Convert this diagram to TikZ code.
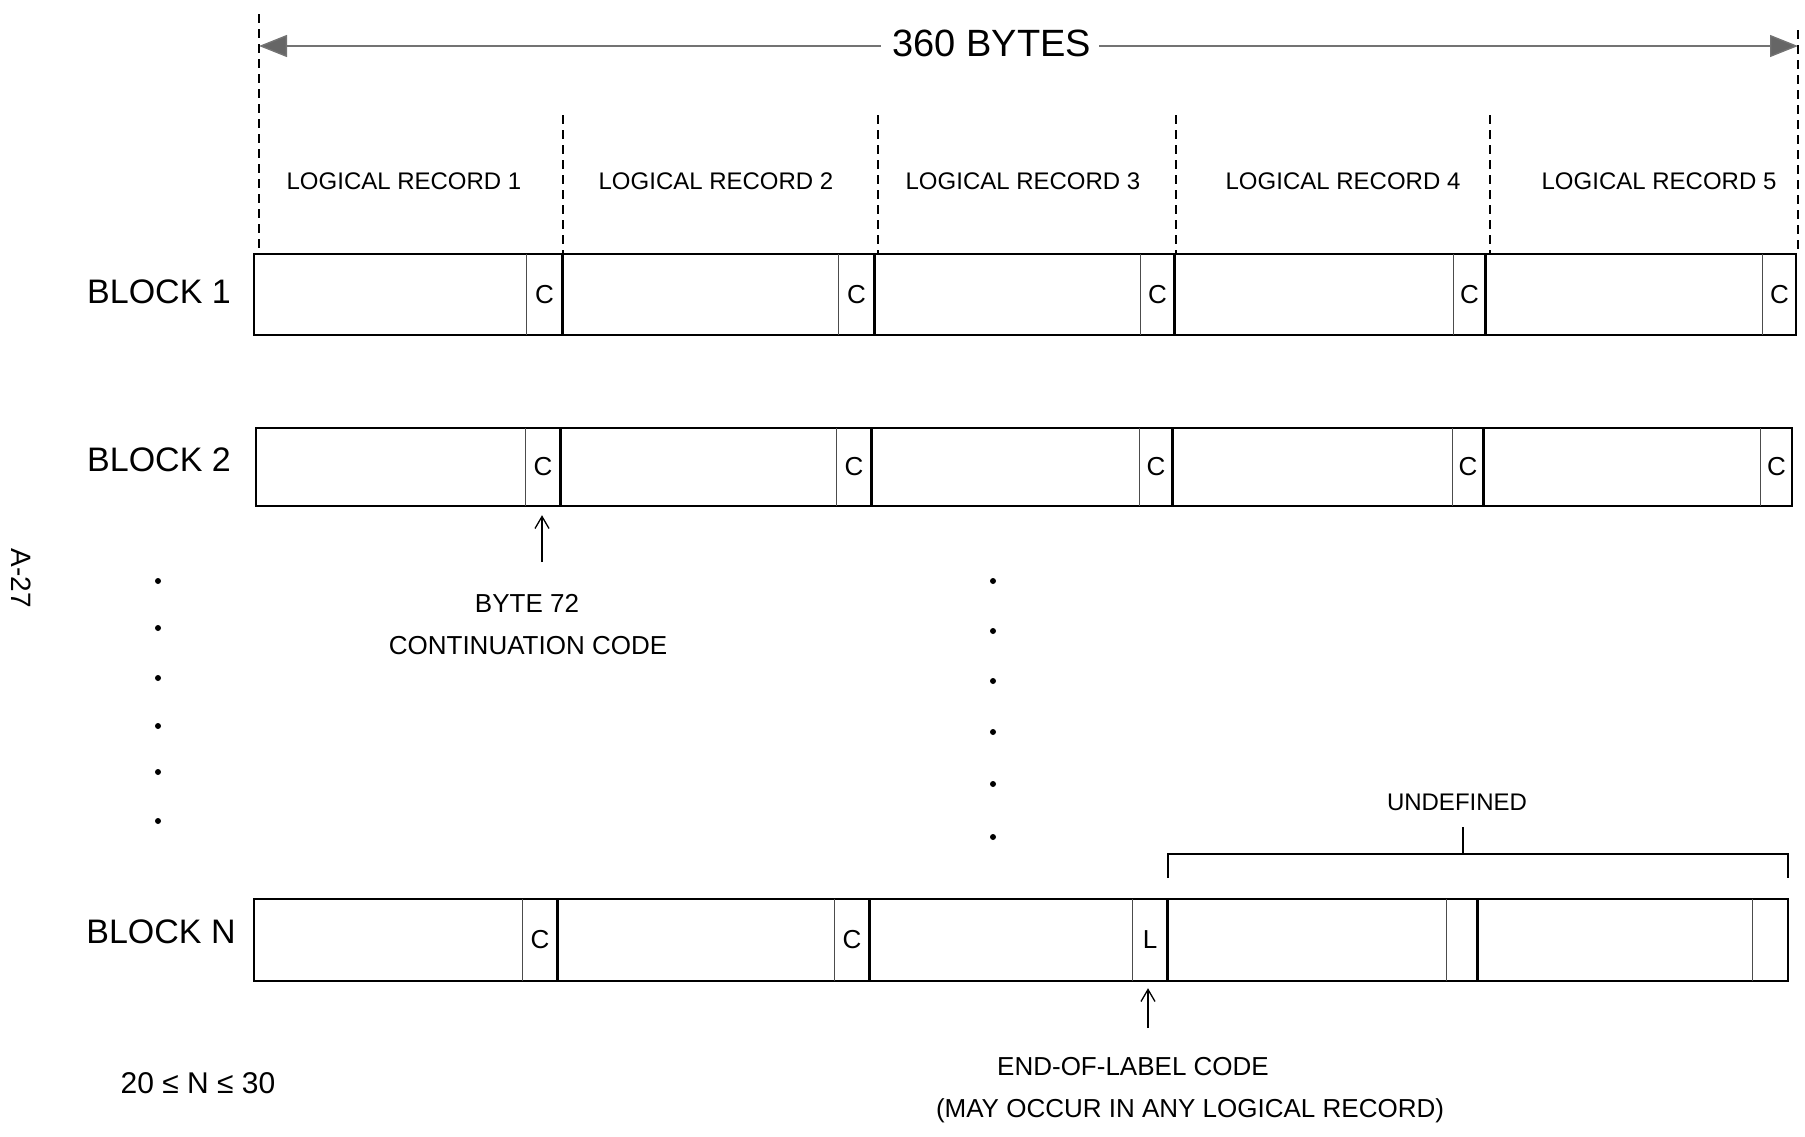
\documentclass[tikz,border=0pt]{standalone}
\usepackage{fontspec}
\setmainfont{Liberation Sans}
\usetikzlibrary{arrows.meta}
\tikzset{
  txt/.style={inner sep=0pt, anchor=center, font=\fontsize{#1}{#1}\selectfont},
  outline/.style={line width=1.8pt, black},
  thinsep/.style={line width=0.9pt, black!70},
  thicksep/.style={line width=2.6pt, black},
  guide/.style={dashed, dash pattern=on 9pt off 6pt, line width=1.1pt, black},
  dimline/.style={line width=1.4pt, black!55, -{Triangle[length=28pt,width=22pt,fill=black!60]}},
  pointer/.style={line width=1.3pt, -{Straight Barb[length=12pt,width=14pt]}},
  dotmark/.style={circle, fill=black, inner sep=0pt, minimum size=6pt},
  cellbox/.style={draw=none, inner sep=0pt, font=\fontsize{26}{26}\selectfont}
}
\begin{document}
\begin{tikzpicture}[x=1pt,y=-1pt]
\useasboundingbox (0,0) rectangle (1805,1136);

% ---- top dimension ----
\node[txt=38] (bytes) at (992,43) {360 BYTES};
\coordinate (arL) at (259,46);
\coordinate (arR) at (1798,46);
\draw[dimline] ([xshift=-12pt]bytes.west|-arL) -- (arL);
\draw[dimline] ([xshift=8pt]bytes.east|-arR) -- (arR);

% ---- guide lines ----
\coordinate (gL1) at (259,14);   \coordinate (gL2) at (259,253);
\coordinate (gR1) at (1798,30);  \coordinate (gR2) at (1798,253);
\draw[guide] (gL1) -- (gL2);
\draw[guide] (gR1) -- (gR2);
\foreach \gx [count=\i] in {563,878,1176,1490}{
  \coordinate (gt\i) at (\gx,115);
  \coordinate (gb\i) at (\gx,253);
  \draw[guide] (gt\i) -- (gb\i);
}

% ---- logical record labels ----
\node[txt=24] (lr1) at (404,181) {LOGICAL RECORD 1};
\node[txt=24] (lr2) at (716,181) {LOGICAL RECORD 2};
\node[txt=24] (lr3) at (1023,181) {LOGICAL RECORD 3};
\node[txt=24] (lr4) at (1343,181) {LOGICAL RECORD 4};
\node[txt=24] (lr5) at (1659,181) {LOGICAL RECORD 5};

% ---- block labels ----
\node[txt=34] (bl1) at (159,292) {BLOCK 1};
\node[txt=34] (bl2) at (159,460) {BLOCK 2};
\node[txt=34] (blN) at (161,932) {BLOCK N};

% ---- block 1 ----
\node[draw, outline, minimum width=1542pt, minimum height=81pt, inner sep=0pt] (b1) at (1025,294.5) {};
\foreach \l/\r [count=\i] in {527/562,839/874,1141/1174,1454/1485,1763/1796}{
  \node[cellbox, minimum width={(\r-\l)*1pt}, minimum height=81pt] (c1\i) at ({(\l+\r)/2},294.5) {C};
  \draw[thinsep] (c1\i.north west) -- (c1\i.south west);
  \ifnum\i<5 \draw[thicksep] (c1\i.north east) -- (c1\i.south east); \fi
}

% ---- block 2 ----
\node[draw, outline, minimum width=1536pt, minimum height=78pt, inner sep=0pt] (b2) at (1024,467) {};
\foreach \l/\r [count=\i] in {526/560,837/871,1140/1172,1453/1483,1761/1792}{
  \node[cellbox, minimum width={(\r-\l)*1pt}, minimum height=78pt] (c2\i) at ({(\l+\r)/2},467) {C};
  \draw[thinsep] (c2\i.north west) -- (c2\i.south west);
  \ifnum\i<5 \draw[thicksep] (c2\i.north east) -- (c2\i.south east); \fi
}

% ---- block N ----
\node[draw, outline, minimum width=1534pt, minimum height=82pt, inner sep=0pt] (bN) at (1021,940) {};
\foreach \l/\r/\t [count=\i] in {523/557/C,835/869/C,1133/1167/L,1447/1477/{},1753/1788/{}}{
  \node[cellbox, minimum width={(\r-\l)*1pt}, minimum height=82pt] (cN\i) at ({(\l+\r)/2},940) {\t};
  \draw[thinsep] (cN\i.north west) -- (cN\i.south west);
  \ifnum\i<5 \draw[thicksep] (cN\i.north east) -- (cN\i.south east); \fi
}

% ---- byte 72 pointer ----
\node[txt=26] (byte72) at (527,603) {BYTE 72};
\node[txt=26] (contcode) at (528,646) {CONTINUATION CODE};
\coordinate (p72) at (542,562);
\draw[pointer] (p72) -- ([yshift=-9pt]p72|-c21.south);

% ---- continuation dots ----
\foreach \yy [count=\i] in {581,628,678,726,772,821}{
  \node[dotmark] (dl\i) at (158,\yy) {};
}
\foreach \yy [count=\i] in {581,631,681,732,784,837}{
  \node[dotmark] (dm\i) at (993,\yy) {};
}

% ---- page number ----
\node[txt=28, rotate=-90] (pagenum) at (21,578) {A-27};

% ---- undefined bracket ----
\node[txt=24] (undef) at (1457,802) {UNDEFINED};
\coordinate (ubL) at (1168,854);
\coordinate (ubR) at (1788,854);
\coordinate (ubM) at (1463,854);
\coordinate (ubT) at (1463,827);
\draw[line width=1.8pt] ([yshift=-24pt]ubL) -- (ubL) -- (ubR) -- ([yshift=-24pt]ubR);
\draw[line width=1.3pt] (ubM) -- (ubT);

% ---- end-of-label pointer ----
\node[txt=26] (eol) at (1133,1067) {END-OF-LABEL CODE};
\node[txt=26] (mayocc) at (1190,1111) {(MAY OCCUR IN ANY LOGICAL RECORD)};
\coordinate (pL) at (1148,1028);
\draw[pointer] (pL) -- ([yshift=-7pt]pL|-cN3.south);

% ---- range ----
\node[txt=30] (range) at (198,1083) {20 ≤ N ≤ 30};
\end{tikzpicture}
\end{document}
